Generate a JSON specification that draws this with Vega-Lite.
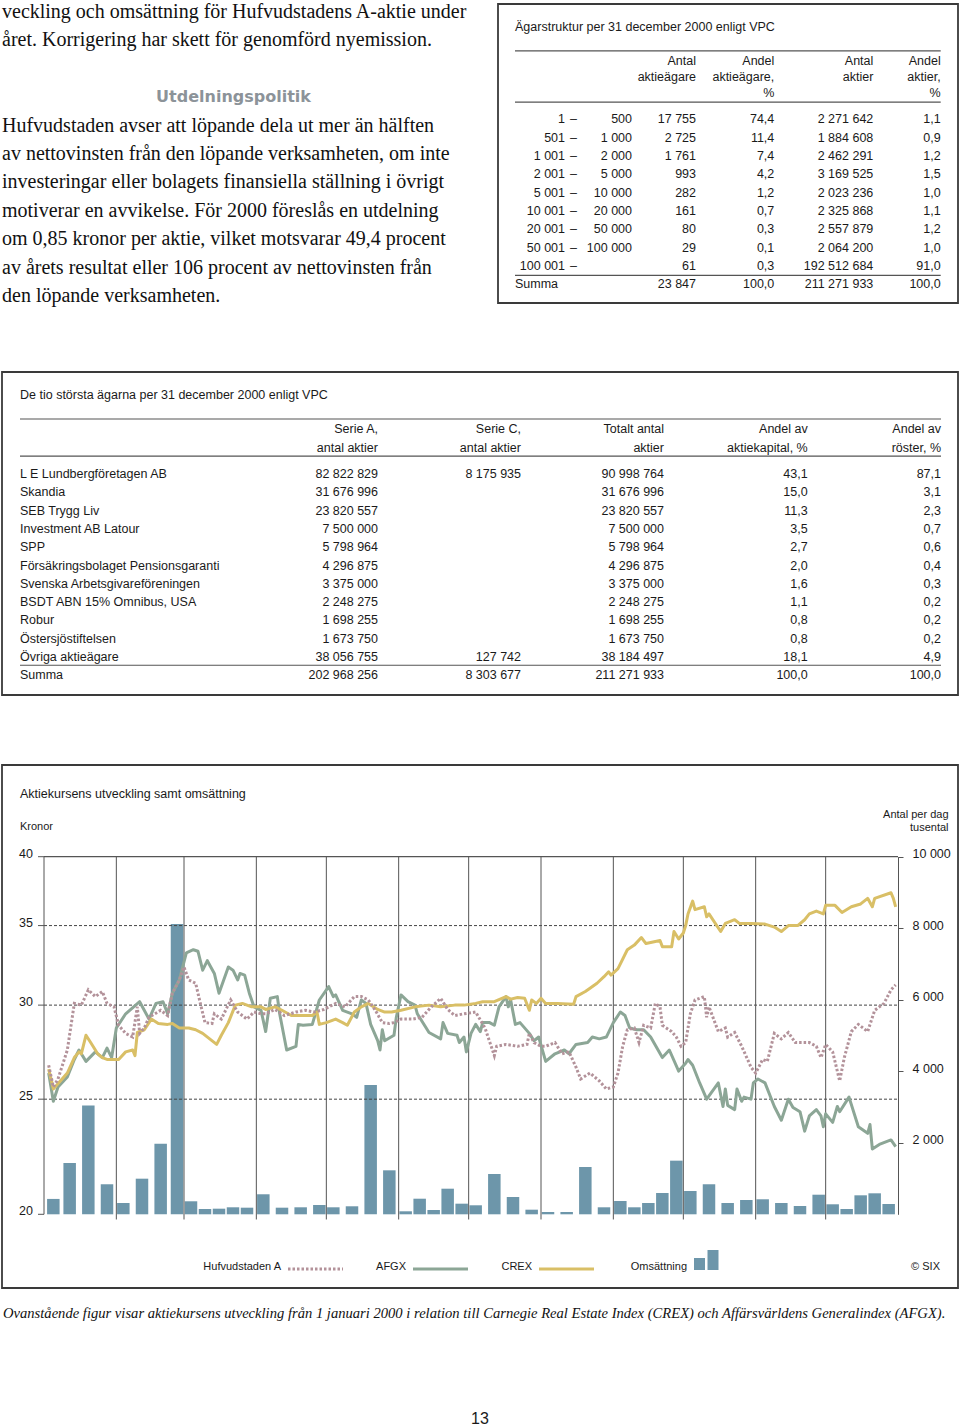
{
  "$schema": "https://vega.github.io/schema/vega-lite/v6.json",
  "width": 960,
  "height": 1428,
  "autosize": {"type": "none"},
  "padding": 0,
  "background": "white",
  "config": {
    "view": {"stroke": null},
    "font": "Liberation Sans, sans-serif",
    "text": {"color": "#1a1a1a"}
  },
  "datasets": {
    "brodtext": [
      {"rad": 0, "typ": "brod", "text": "veckling och omsättning för Hufvudstadens A-aktie under"},
      {"rad": 1, "typ": "brod", "text": "året. Korrigering har skett för genomförd nyemission."},
      {"rad": 3, "typ": "rubrik", "text": "Utdelningspolitik"},
      {"rad": 4, "typ": "brod", "text": "Hufvudstaden avser att löpande dela ut mer än hälften"},
      {"rad": 5, "typ": "brod", "text": "av nettovinsten från den löpande verksamheten, om inte"},
      {"rad": 6, "typ": "brod", "text": "investeringar eller bolagets finansiella ställning i övrigt"},
      {"rad": 7, "typ": "brod", "text": "motiverar en avvikelse. För 2000 föreslås en utdelning"},
      {"rad": 8, "typ": "brod", "text": "om 0,85 kronor per aktie, vilket motsvarar 49,4 procent"},
      {"rad": 9, "typ": "brod", "text": "av årets resultat eller 106 procent av nettovinsten från"},
      {"rad": 10, "typ": "brod", "text": "den löpande verksamheten."}
    ],
    "agarstruktur": [
      {"rad": -2, "etikett": "Ägarstruktur per 31 december 2000 enligt VPC"},
      {"rad": 0, "agare": "Antal", "agare_pct": "Andel", "aktier": "Antal", "aktier_pct": "Andel"},
      {"rad": 1, "agare": "aktieägare", "agare_pct": "aktieägare,", "aktier": "aktier", "aktier_pct": "aktier,"},
      {"rad": 2, "agare_pct": "%", "aktier_pct": "%"},
      {"rad": 3, "fran": "1", "streck": "–", "till": "500", "agare": "17 755", "agare_pct": "74,4", "aktier": "2 271 642", "aktier_pct": "1,1"},
      {"rad": 4, "fran": "501", "streck": "–", "till": "1 000", "agare": "2 725", "agare_pct": "11,4", "aktier": "1 884 608", "aktier_pct": "0,9"},
      {"rad": 5, "fran": "1 001", "streck": "–", "till": "2 000", "agare": "1 761", "agare_pct": "7,4", "aktier": "2 462 291", "aktier_pct": "1,2"},
      {"rad": 6, "fran": "2 001", "streck": "–", "till": "5 000", "agare": "993", "agare_pct": "4,2", "aktier": "3 169 525", "aktier_pct": "1,5"},
      {"rad": 7, "fran": "5 001", "streck": "–", "till": "10 000", "agare": "282", "agare_pct": "1,2", "aktier": "2 023 236", "aktier_pct": "1,0"},
      {"rad": 8, "fran": "10 001", "streck": "–", "till": "20 000", "agare": "161", "agare_pct": "0,7", "aktier": "2 325 868", "aktier_pct": "1,1"},
      {"rad": 9, "fran": "20 001", "streck": "–", "till": "50 000", "agare": "80", "agare_pct": "0,3", "aktier": "2 557 879", "aktier_pct": "1,2"},
      {"rad": 10, "fran": "50 001", "streck": "–", "till": "100 000", "agare": "29", "agare_pct": "0,1", "aktier": "2 064 200", "aktier_pct": "1,0"},
      {"rad": 11, "fran": "100 001", "streck": "–", "agare": "61", "agare_pct": "0,3", "aktier": "192 512 684", "aktier_pct": "91,0"},
      {"rad": 12, "etikett": "Summa", "agare": "23 847", "agare_pct": "100,0", "aktier": "211 271 933", "aktier_pct": "100,0"}
    ],
    "agarstrukturLinjer": [{"rad": -0.6}, {"rad": 2.35}, {"rad": 11.51}],
    "storstaAgare": [
      {"rad": -2, "namn": "De tio största ägarna per 31 december 2000 enligt VPC"},
      {"rad": 0, "serieA": "Serie A,", "serieC": "Serie C,", "totalt": "Totalt antal", "kapital": "Andel av", "roster": "Andel av"},
      {"rad": 1, "serieA": "antal aktier", "serieC": "antal aktier", "totalt": "aktier", "kapital": "aktiekapital, %", "roster": "röster, %"},
      {"rad": 2, "namn": "L E Lundbergföretagen AB", "serieA": "82 822 829", "serieC": "8 175 935", "totalt": "90 998 764", "kapital": "43,1", "roster": "87,1"},
      {"rad": 3, "namn": "Skandia", "serieA": "31 676 996", "totalt": "31 676 996", "kapital": "15,0", "roster": "3,1"},
      {"rad": 4, "namn": "SEB Trygg Liv", "serieA": "23 820 557", "totalt": "23 820 557", "kapital": "11,3", "roster": "2,3"},
      {"rad": 5, "namn": "Investment AB Latour", "serieA": "7 500 000", "totalt": "7 500 000", "kapital": "3,5", "roster": "0,7"},
      {"rad": 6, "namn": "SPP", "serieA": "5 798 964", "totalt": "5 798 964", "kapital": "2,7", "roster": "0,6"},
      {"rad": 7, "namn": "Försäkringsbolaget Pensionsgaranti", "serieA": "4 296 875", "totalt": "4 296 875", "kapital": "2,0", "roster": "0,4"},
      {"rad": 8, "namn": "Svenska Arbetsgivareföreningen", "serieA": "3 375 000", "totalt": "3 375 000", "kapital": "1,6", "roster": "0,3"},
      {"rad": 9, "namn": "BSDT ABN 15% Omnibus, USA", "serieA": "2 248 275", "totalt": "2 248 275", "kapital": "1,1", "roster": "0,2"},
      {"rad": 10, "namn": "Robur", "serieA": "1 698 255", "totalt": "1 698 255", "kapital": "0,8", "roster": "0,2"},
      {"rad": 11, "namn": "Östersjöstiftelsen", "serieA": "1 673 750", "totalt": "1 673 750", "kapital": "0,8", "roster": "0,2"},
      {"rad": 12, "namn": "Övriga aktieägare", "serieA": "38 056 755", "serieC": "127 742", "totalt": "38 184 497", "kapital": "18,1", "roster": "4,9"},
      {"rad": 13, "namn": "Summa", "serieA": "202 968 256", "serieC": "8 303 677", "totalt": "211 271 933", "kapital": "100,0", "roster": "100,0"}
    ],
    "storstaLinjer": [{"rad": -0.6}, {"rad": 1.32}, {"rad": 12.45}],
    "hufvudstaden": [
      {"d": "2000-01-03", "v": 26.7}, {"d": "2000-01-05", "v": 25.6}, {"d": "2000-01-07", "v": 26.0}, {"d": "2000-01-11", "v": 27.5},
      {"d": "2000-01-14", "v": 30.1}, {"d": "2000-01-17", "v": 30.0}, {"d": "2000-01-20", "v": 30.9}, {"d": "2000-01-23", "v": 30.5},
      {"d": "2000-01-26", "v": 30.8}, {"d": "2000-01-28", "v": 30.1}, {"d": "2000-01-31", "v": 29.9}, {"d": "2000-02-02", "v": 28.85},
      {"d": "2000-02-05", "v": 28.4}, {"d": "2000-02-08", "v": 28.2}, {"d": "2000-02-10", "v": 29.9}, {"d": "2000-02-11", "v": 28.4},
      {"d": "2000-02-13", "v": 28.7}, {"d": "2000-02-15", "v": 29.3}, {"d": "2000-02-20", "v": 29.7}, {"d": "2000-02-23", "v": 29.4},
      {"d": "2000-02-25", "v": 30.7}, {"d": "2000-02-28", "v": 31.5}, {"d": "2000-03-01", "v": 32.3}, {"d": "2000-03-03", "v": 31.5},
      {"d": "2000-03-06", "v": 31.3}, {"d": "2000-03-08", "v": 30.1}, {"d": "2000-03-10", "v": 29.0}, {"d": "2000-03-13", "v": 28.95},
      {"d": "2000-03-14", "v": 29.5}, {"d": "2000-03-17", "v": 29.2}, {"d": "2000-03-21", "v": 30.3}, {"d": "2000-03-24", "v": 29.6},
      {"d": "2000-03-28", "v": 29.2}, {"d": "2000-03-31", "v": 29.6}, {"d": "2000-04-03", "v": 29.5}, {"d": "2000-04-05", "v": 29.5},
      {"d": "2000-04-09", "v": 29.75}, {"d": "2000-04-13", "v": 29.4}, {"d": "2000-04-18", "v": 29.6}, {"d": "2000-04-22", "v": 29.7},
      {"d": "2000-04-26", "v": 29.6}, {"d": "2000-04-30", "v": 29.75}, {"d": "2000-05-05", "v": 30.1}, {"d": "2000-05-09", "v": 29.9},
      {"d": "2000-05-13", "v": 30.5}, {"d": "2000-05-16", "v": 30.5}, {"d": "2000-05-19", "v": 30.3}, {"d": "2000-05-22", "v": 29.7},
      {"d": "2000-05-25", "v": 29.0}, {"d": "2000-05-28", "v": 28.95}, {"d": "2000-05-30", "v": 29.0}, {"d": "2000-06-02", "v": 29.2},
      {"d": "2000-06-07", "v": 29.2}, {"d": "2000-06-11", "v": 29.3}, {"d": "2000-06-15", "v": 29.9}, {"d": "2000-06-19", "v": 30.4},
      {"d": "2000-06-22", "v": 29.75}, {"d": "2000-06-25", "v": 29.4}, {"d": "2000-06-29", "v": 29.5}, {"d": "2000-07-04", "v": 29.6},
      {"d": "2000-07-08", "v": 28.7}, {"d": "2000-07-12", "v": 27.2}, {"d": "2000-07-13", "v": 27.7}, {"d": "2000-07-17", "v": 27.8},
      {"d": "2000-07-22", "v": 27.7}, {"d": "2000-07-26", "v": 27.8}, {"d": "2000-07-27", "v": 28.4}, {"d": "2000-07-29", "v": 27.9},
      {"d": "2000-08-01", "v": 27.7}, {"d": "2000-08-03", "v": 27.7}, {"d": "2000-08-07", "v": 27.9}, {"d": "2000-08-10", "v": 27.3},
      {"d": "2000-08-13", "v": 27.4}, {"d": "2000-08-16", "v": 26.6}, {"d": "2000-08-18", "v": 26.0}, {"d": "2000-08-22", "v": 26.3},
      {"d": "2000-08-26", "v": 25.9}, {"d": "2000-08-29", "v": 25.5}, {"d": "2000-09-01", "v": 25.6}, {"d": "2000-09-03", "v": 26.3},
      {"d": "2000-09-05", "v": 27.7}, {"d": "2000-09-07", "v": 28.6}, {"d": "2000-09-10", "v": 28.7}, {"d": "2000-09-12", "v": 27.9},
      {"d": "2000-09-14", "v": 28.85}, {"d": "2000-09-17", "v": 28.7}, {"d": "2000-09-19", "v": 30.1}, {"d": "2000-09-21", "v": 29.9},
      {"d": "2000-09-22", "v": 28.85}, {"d": "2000-09-26", "v": 28.5}, {"d": "2000-09-28", "v": 28.2}, {"d": "2000-09-30", "v": 27.7},
      {"d": "2000-10-02", "v": 27.9}, {"d": "2000-10-04", "v": 29.5}, {"d": "2000-10-06", "v": 30.3}, {"d": "2000-10-10", "v": 30.5},
      {"d": "2000-10-11", "v": 29.3}, {"d": "2000-10-12", "v": 29.9}, {"d": "2000-10-16", "v": 28.5}, {"d": "2000-10-19", "v": 28.7},
      {"d": "2000-10-20", "v": 28.2}, {"d": "2000-10-23", "v": 28.45}, {"d": "2000-10-26", "v": 27.7}, {"d": "2000-10-30", "v": 26.6},
      {"d": "2000-11-01", "v": 26.3}, {"d": "2000-11-04", "v": 27.0}, {"d": "2000-11-06", "v": 26.9}, {"d": "2000-11-09", "v": 28.4},
      {"d": "2000-11-12", "v": 28.1}, {"d": "2000-11-15", "v": 28.45}, {"d": "2000-11-18", "v": 27.9}, {"d": "2000-11-24", "v": 27.9},
      {"d": "2000-11-27", "v": 27.7}, {"d": "2000-11-29", "v": 27.1}, {"d": "2000-12-01", "v": 27.8}, {"d": "2000-12-04", "v": 27.4},
      {"d": "2000-12-07", "v": 25.9}, {"d": "2000-12-09", "v": 27.1}, {"d": "2000-12-12", "v": 28.5}, {"d": "2000-12-15", "v": 28.9},
      {"d": "2000-12-19", "v": 28.5}, {"d": "2000-12-22", "v": 29.7}, {"d": "2000-12-26", "v": 30.1}, {"d": "2000-12-29", "v": 30.9},
      {"d": "2000-12-31", "v": 31.2}
    ],
    "afgx": [
      {"d": "2000-01-03", "v": 26.3}, {"d": "2000-01-05", "v": 24.9}, {"d": "2000-01-07", "v": 25.6}, {"d": "2000-01-11", "v": 26.1},
      {"d": "2000-01-14", "v": 27.0}, {"d": "2000-01-16", "v": 27.5}, {"d": "2000-01-19", "v": 26.9}, {"d": "2000-01-23", "v": 27.4},
      {"d": "2000-01-26", "v": 27.1}, {"d": "2000-01-28", "v": 27.6}, {"d": "2000-01-30", "v": 27.1}, {"d": "2000-02-01", "v": 28.7},
      {"d": "2000-02-05", "v": 29.5}, {"d": "2000-02-11", "v": 30.2}, {"d": "2000-02-15", "v": 29.2}, {"d": "2000-02-18", "v": 30.1},
      {"d": "2000-02-21", "v": 30.2}, {"d": "2000-02-23", "v": 29.5}, {"d": "2000-02-25", "v": 30.7}, {"d": "2000-02-28", "v": 31.5},
      {"d": "2000-03-02", "v": 33.2}, {"d": "2000-03-05", "v": 33.4}, {"d": "2000-03-07", "v": 33.3}, {"d": "2000-03-09", "v": 32.1},
      {"d": "2000-03-11", "v": 32.7}, {"d": "2000-03-14", "v": 31.9}, {"d": "2000-03-16", "v": 30.7}, {"d": "2000-03-20", "v": 32.3},
      {"d": "2000-03-22", "v": 32.1}, {"d": "2000-03-24", "v": 31.5}, {"d": "2000-03-25", "v": 31.9}, {"d": "2000-03-27", "v": 31.8},
      {"d": "2000-03-29", "v": 30.7}, {"d": "2000-03-31", "v": 29.9}, {"d": "2000-04-03", "v": 29.7}, {"d": "2000-04-05", "v": 28.5},
      {"d": "2000-04-07", "v": 30.4}, {"d": "2000-04-10", "v": 30.5}, {"d": "2000-04-11", "v": 29.5}, {"d": "2000-04-14", "v": 27.5},
      {"d": "2000-04-18", "v": 27.7}, {"d": "2000-04-19", "v": 28.9}, {"d": "2000-04-21", "v": 28.85}, {"d": "2000-04-25", "v": 28.9},
      {"d": "2000-04-28", "v": 30.3}, {"d": "2000-05-02", "v": 31.1}, {"d": "2000-05-04", "v": 30.5}, {"d": "2000-05-05", "v": 30.6},
      {"d": "2000-05-08", "v": 29.7}, {"d": "2000-05-12", "v": 29.5}, {"d": "2000-05-14", "v": 29.3}, {"d": "2000-05-16", "v": 30.3},
      {"d": "2000-05-18", "v": 30.1}, {"d": "2000-05-20", "v": 28.9}, {"d": "2000-05-23", "v": 28.0}, {"d": "2000-05-24", "v": 27.5},
      {"d": "2000-05-25", "v": 28.6}, {"d": "2000-05-26", "v": 28.0}, {"d": "2000-05-30", "v": 28.3}, {"d": "2000-05-31", "v": 29.3},
      {"d": "2000-06-02", "v": 30.6}, {"d": "2000-06-05", "v": 30.2}, {"d": "2000-06-08", "v": 30.0}, {"d": "2000-06-09", "v": 29.5},
      {"d": "2000-06-14", "v": 28.45}, {"d": "2000-06-19", "v": 28.1}, {"d": "2000-06-20", "v": 29.0}, {"d": "2000-06-22", "v": 28.4},
      {"d": "2000-06-26", "v": 28.3}, {"d": "2000-06-27", "v": 27.9}, {"d": "2000-06-29", "v": 28.2}, {"d": "2000-06-30", "v": 27.4},
      {"d": "2000-07-02", "v": 28.4}, {"d": "2000-07-04", "v": 28.9}, {"d": "2000-07-06", "v": 28.5}, {"d": "2000-07-07", "v": 29.0},
      {"d": "2000-07-10", "v": 29.0}, {"d": "2000-07-12", "v": 28.85}, {"d": "2000-07-14", "v": 29.9}, {"d": "2000-07-17", "v": 30.5},
      {"d": "2000-07-18", "v": 29.9}, {"d": "2000-07-19", "v": 30.3}, {"d": "2000-07-21", "v": 28.9}, {"d": "2000-07-23", "v": 29.0},
      {"d": "2000-07-27", "v": 28.4}, {"d": "2000-07-29", "v": 28.0}, {"d": "2000-07-31", "v": 28.2}, {"d": "2000-08-03", "v": 26.9},
      {"d": "2000-08-07", "v": 27.3}, {"d": "2000-08-11", "v": 27.5}, {"d": "2000-08-13", "v": 27.3}, {"d": "2000-08-16", "v": 27.8},
      {"d": "2000-08-21", "v": 27.9}, {"d": "2000-08-23", "v": 28.2}, {"d": "2000-08-26", "v": 28.1}, {"d": "2000-08-29", "v": 28.2},
      {"d": "2000-09-01", "v": 29.0}, {"d": "2000-09-04", "v": 29.6}, {"d": "2000-09-06", "v": 29.4}, {"d": "2000-09-08", "v": 28.7},
      {"d": "2000-09-11", "v": 28.6}, {"d": "2000-09-14", "v": 28.6}, {"d": "2000-09-17", "v": 28.2}, {"d": "2000-09-22", "v": 27.1},
      {"d": "2000-09-25", "v": 27.5}, {"d": "2000-09-29", "v": 26.4}, {"d": "2000-10-02", "v": 26.8}, {"d": "2000-10-03", "v": 27.0},
      {"d": "2000-10-05", "v": 26.7}, {"d": "2000-10-08", "v": 25.8}, {"d": "2000-10-11", "v": 25.0}, {"d": "2000-10-16", "v": 25.8},
      {"d": "2000-10-18", "v": 24.65}, {"d": "2000-10-19", "v": 25.5}, {"d": "2000-10-20", "v": 24.7}, {"d": "2000-10-23", "v": 24.5},
      {"d": "2000-10-24", "v": 25.5}, {"d": "2000-10-26", "v": 24.9}, {"d": "2000-10-27", "v": 25.1}, {"d": "2000-10-30", "v": 25.0},
      {"d": "2000-10-31", "v": 25.8}, {"d": "2000-11-02", "v": 26.0}, {"d": "2000-11-05", "v": 25.8}, {"d": "2000-11-09", "v": 24.65},
      {"d": "2000-11-12", "v": 24.0}, {"d": "2000-11-15", "v": 25.0}, {"d": "2000-11-17", "v": 24.6}, {"d": "2000-11-20", "v": 24.4},
      {"d": "2000-11-22", "v": 23.5}, {"d": "2000-11-24", "v": 24.2}, {"d": "2000-11-27", "v": 24.5}, {"d": "2000-11-29", "v": 24.2},
      {"d": "2000-11-30", "v": 23.7}, {"d": "2000-12-01", "v": 24.3}, {"d": "2000-12-04", "v": 23.9}, {"d": "2000-12-06", "v": 24.65},
      {"d": "2000-12-07", "v": 24.4}, {"d": "2000-12-11", "v": 25.1}, {"d": "2000-12-15", "v": 23.7}, {"d": "2000-12-19", "v": 23.4},
      {"d": "2000-12-20", "v": 23.8}, {"d": "2000-12-21", "v": 22.7}, {"d": "2000-12-24", "v": 22.9}, {"d": "2000-12-29", "v": 23.1},
      {"d": "2000-12-31", "v": 22.8}
    ],
    "crex": [
      {"d": "2000-01-03", "v": 26.5}, {"d": "2000-01-05", "v": 25.5}, {"d": "2000-01-08", "v": 25.9}, {"d": "2000-01-11", "v": 26.3},
      {"d": "2000-01-14", "v": 27.1}, {"d": "2000-01-16", "v": 27.4}, {"d": "2000-01-17", "v": 27.3}, {"d": "2000-01-19", "v": 28.3},
      {"d": "2000-01-21", "v": 27.9}, {"d": "2000-01-24", "v": 27.3}, {"d": "2000-01-26", "v": 27.1}, {"d": "2000-01-28", "v": 27.0},
      {"d": "2000-01-30", "v": 27.0}, {"d": "2000-02-02", "v": 27.0}, {"d": "2000-02-05", "v": 27.4}, {"d": "2000-02-08", "v": 27.5},
      {"d": "2000-02-09", "v": 27.2}, {"d": "2000-02-10", "v": 28.45}, {"d": "2000-02-13", "v": 28.6}, {"d": "2000-02-16", "v": 29.2},
      {"d": "2000-02-19", "v": 28.95}, {"d": "2000-02-23", "v": 28.9}, {"d": "2000-02-25", "v": 28.95}, {"d": "2000-02-28", "v": 28.7},
      {"d": "2000-03-03", "v": 28.7}, {"d": "2000-03-06", "v": 28.6}, {"d": "2000-03-09", "v": 28.4}, {"d": "2000-03-12", "v": 28.1},
      {"d": "2000-03-15", "v": 27.8}, {"d": "2000-03-17", "v": 28.3}, {"d": "2000-03-20", "v": 29.0}, {"d": "2000-03-23", "v": 30.0},
      {"d": "2000-03-26", "v": 30.1}, {"d": "2000-03-30", "v": 29.9}, {"d": "2000-04-03", "v": 29.9}, {"d": "2000-04-05", "v": 29.75},
      {"d": "2000-04-09", "v": 29.9}, {"d": "2000-04-12", "v": 29.7}, {"d": "2000-04-16", "v": 29.4}, {"d": "2000-04-20", "v": 29.4},
      {"d": "2000-04-25", "v": 29.4}, {"d": "2000-04-27", "v": 29.6}, {"d": "2000-04-28", "v": 28.9}, {"d": "2000-05-01", "v": 29.0},
      {"d": "2000-05-05", "v": 29.2}, {"d": "2000-05-08", "v": 29.0}, {"d": "2000-05-10", "v": 28.85}, {"d": "2000-05-13", "v": 29.6},
      {"d": "2000-05-16", "v": 29.9}, {"d": "2000-05-19", "v": 30.1}, {"d": "2000-05-23", "v": 29.75}, {"d": "2000-05-26", "v": 29.6},
      {"d": "2000-05-29", "v": 29.6}, {"d": "2000-06-02", "v": 29.7}, {"d": "2000-06-08", "v": 29.9}, {"d": "2000-06-14", "v": 30.0},
      {"d": "2000-06-19", "v": 29.9}, {"d": "2000-06-25", "v": 30.0}, {"d": "2000-06-29", "v": 30.0}, {"d": "2000-07-04", "v": 30.1},
      {"d": "2000-07-07", "v": 30.2}, {"d": "2000-07-12", "v": 30.2}, {"d": "2000-07-17", "v": 30.5}, {"d": "2000-07-19", "v": 30.35},
      {"d": "2000-07-22", "v": 30.45}, {"d": "2000-07-25", "v": 30.4}, {"d": "2000-07-27", "v": 29.7}, {"d": "2000-07-28", "v": 30.3},
      {"d": "2000-07-30", "v": 30.1}, {"d": "2000-08-01", "v": 30.4}, {"d": "2000-08-03", "v": 30.1}, {"d": "2000-08-08", "v": 30.1},
      {"d": "2000-08-15", "v": 30.05}, {"d": "2000-08-16", "v": 30.5}, {"d": "2000-08-20", "v": 30.8}, {"d": "2000-08-22", "v": 31.0},
      {"d": "2000-08-25", "v": 31.3}, {"d": "2000-08-28", "v": 31.7}, {"d": "2000-08-30", "v": 32.0}, {"d": "2000-08-31", "v": 31.8},
      {"d": "2000-09-03", "v": 32.2}, {"d": "2000-09-07", "v": 33.4}, {"d": "2000-09-10", "v": 33.7}, {"d": "2000-09-13", "v": 34.2},
      {"d": "2000-09-15", "v": 33.8}, {"d": "2000-09-18", "v": 33.9}, {"d": "2000-09-21", "v": 34.0}, {"d": "2000-09-22", "v": 33.6},
      {"d": "2000-09-26", "v": 33.6}, {"d": "2000-09-27", "v": 34.6}, {"d": "2000-09-29", "v": 34.1}, {"d": "2000-10-01", "v": 34.5},
      {"d": "2000-10-02", "v": 35.0}, {"d": "2000-10-03", "v": 35.8}, {"d": "2000-10-05", "v": 36.7}, {"d": "2000-10-06", "v": 36.1},
      {"d": "2000-10-10", "v": 36.3}, {"d": "2000-10-11", "v": 35.6}, {"d": "2000-10-12", "v": 35.8}, {"d": "2000-10-17", "v": 34.6},
      {"d": "2000-10-19", "v": 35.15}, {"d": "2000-10-23", "v": 35.4}, {"d": "2000-10-25", "v": 35.15}, {"d": "2000-10-30", "v": 35.15},
      {"d": "2000-11-05", "v": 35.1}, {"d": "2000-11-09", "v": 34.9}, {"d": "2000-11-12", "v": 34.6}, {"d": "2000-11-15", "v": 35.0},
      {"d": "2000-11-19", "v": 35.0}, {"d": "2000-11-22", "v": 35.4}, {"d": "2000-11-24", "v": 35.8}, {"d": "2000-11-27", "v": 36.0},
      {"d": "2000-11-30", "v": 35.8}, {"d": "2000-12-01", "v": 36.4}, {"d": "2000-12-05", "v": 36.4}, {"d": "2000-12-08", "v": 35.9},
      {"d": "2000-12-12", "v": 36.3}, {"d": "2000-12-16", "v": 36.5}, {"d": "2000-12-19", "v": 36.9}, {"d": "2000-12-21", "v": 36.3},
      {"d": "2000-12-22", "v": 36.9}, {"d": "2000-12-29", "v": 37.3}, {"d": "2000-12-30", "v": 36.9}, {"d": "2000-12-31", "v": 36.3}
    ],
    "omsattning": [
      {"d": "2000-01-05", "v": 430}, {"d": "2000-01-12", "v": 1435}, {"d": "2000-01-20", "v": 3040}, {"d": "2000-01-28", "v": 840},
      {"d": "2000-02-04", "v": 316}, {"d": "2000-02-12", "v": 996}, {"d": "2000-02-20", "v": 1975}, {"d": "2000-02-27", "v": 8120},
      {"d": "2000-03-04", "v": 364}, {"d": "2000-03-10", "v": 148}, {"d": "2000-03-16", "v": 157}, {"d": "2000-03-22", "v": 196},
      {"d": "2000-03-28", "v": 185}, {"d": "2000-04-04", "v": 560}, {"d": "2000-04-12", "v": 185}, {"d": "2000-04-20", "v": 196},
      {"d": "2000-04-28", "v": 260}, {"d": "2000-05-04", "v": 196}, {"d": "2000-05-12", "v": 224}, {"d": "2000-05-20", "v": 3617},
      {"d": "2000-05-28", "v": 1230}, {"d": "2000-06-04", "v": 84}, {"d": "2000-06-10", "v": 436}, {"d": "2000-06-16", "v": 120},
      {"d": "2000-06-22", "v": 716}, {"d": "2000-06-28", "v": 297}, {"d": "2000-07-04", "v": 252}, {"d": "2000-07-12", "v": 1127},
      {"d": "2000-07-20", "v": 484}, {"d": "2000-07-28", "v": 129}, {"d": "2000-08-04", "v": 64}, {"d": "2000-08-12", "v": 64},
      {"d": "2000-08-20", "v": 1323}, {"d": "2000-08-28", "v": 196}, {"d": "2000-09-04", "v": 372}, {"d": "2000-09-10", "v": 196},
      {"d": "2000-09-16", "v": 316}, {"d": "2000-09-22", "v": 596}, {"d": "2000-09-28", "v": 1500}, {"d": "2000-10-04", "v": 652},
      {"d": "2000-10-12", "v": 840}, {"d": "2000-10-20", "v": 316}, {"d": "2000-10-28", "v": 400}, {"d": "2000-11-04", "v": 420},
      {"d": "2000-11-12", "v": 316}, {"d": "2000-11-20", "v": 232}, {"d": "2000-11-28", "v": 548}, {"d": "2000-12-04", "v": 280},
      {"d": "2000-12-10", "v": 148}, {"d": "2000-12-16", "v": 531}, {"d": "2000-12-22", "v": 587}, {"d": "2000-12-28", "v": 288}
    ],
    "manadsgranser": [
      {"m": "2000-02-01"}, {"m": "2000-03-01"}, {"m": "2000-04-01"}, {"m": "2000-05-01"}, {"m": "2000-06-01"}, {"m": "2000-07-01"},
      {"m": "2000-08-01"}, {"m": "2000-09-01"}, {"m": "2000-10-01"}, {"m": "2000-11-01"}, {"m": "2000-12-01"}
    ],
    "kronorsteg": [{"kronor": 20}, {"kronor": 25}, {"kronor": 30}, {"kronor": 35}, {"kronor": 40}],
    "kronorrubrik": [{"kronor": 40, "text": "Kronor"}],
    "stodlinjer": [{"niva": 25}, {"niva": 30}, {"niva": 35}],
    "ramlinje": [{"niva": 40}],
    "forklaring": [
      {"nr": 1, "serie": "Hufvudstaden A", "typ": "linje"},
      {"nr": 2, "serie": "AFGX", "typ": "linje"},
      {"nr": 3, "serie": "CREX", "typ": "linje"},
      {"nr": 4, "serie": "Omsättning", "typ": "stapel"},
      {"nr": 5, "serie": "© SIX", "typ": "kalla"}
    ],
    "diagramrubrik": [{"rubrik": "Aktiekursens utveckling samt omsättning"}],
    "fot": [
      {"rad": 0, "typ": "bildtext", "text": "Ovanstående figur visar aktiekursens utveckling från 1 januari 2000 i relation till Carnegie Real Estate Index (CREX) och Affärsvärldens Generalindex (AFGX)."},
      {"rad": 1, "typ": "sidnummer", "text": "13"}
    ]
  },
  "layer": [
    {
      "data": {"name": "brodtext"},
      "encoding": {
        "y": {"field": "rad", "type": "quantitative", "axis": null,
              "scale": {"domain": [0, 10], "range": [12, 296], "nice": false, "zero": false}}
      },
      "layer": [
        {
          "transform": [{"filter": "datum.typ == 'brod'"}],
          "mark": {"type": "text", "align": "left", "baseline": "middle", "font": "Liberation Serif", "fontSize": 20, "color": "#111"},
          "encoding": {
            "x": {"datum": 0, "type": "quantitative", "axis": null,
                  "scale": {"domain": [0, 1], "range": [2, 465], "nice": false, "zero": false}},
            "text": {"field": "text", "type": "nominal"}
          }
        },
        {
          "transform": [{"filter": "datum.typ == 'rubrik'"}],
          "mark": {"type": "text", "align": "center", "baseline": "middle", "font": "DejaVu Sans", "fontWeight": "bold", "fontSize": 16, "color": "#8c9399"},
          "encoding": {
            "x": {"datum": 0.5, "type": "quantitative", "axis": null},
            "text": {"field": "text", "type": "nominal"}
          }
        }
      ]
    },
    {
      "layer": [
        {
          "data": {"values": [{}]},
          "mark": {"type": "rect", "fillOpacity": 0, "stroke": "#3a3a3a", "strokeWidth": 1.8},
          "encoding": {
            "x": {"datum": -1, "type": "quantitative", "axis": null,
                  "scale": {"domain": [-1, 0, 1, 2, 3, 4, 5, 6, 7, 8], "range": [498, 515, 565, 577, 632, 696, 774.3, 873.3, 940.7, 958], "nice": false, "zero": false}},
            "x2": {"datum": 8},
            "y": {"datum": -3.5, "type": "quantitative", "axis": null,
                  "scale": {"domain": [-3.5, -2, 0, 2, 3, 12, 13], "range": [4, 27, 61, 93, 119.3, 284.3, 303], "nice": false, "zero": false}},
            "y2": {"datum": 13}
          }
        },
        {
          "data": {"name": "agarstrukturLinjer"},
          "mark": {"type": "rule", "color": "#555", "strokeWidth": 1.2},
          "encoding": {
            "x": {"datum": 0, "type": "quantitative", "axis": null},
            "x2": {"datum": 7},
            "y": {"field": "rad", "type": "quantitative", "axis": null}
          }
        },
        {
          "data": {"name": "agarstruktur"},
          "transform": [
            {"fold": ["fran", "streck", "till", "agare", "agare_pct", "aktier", "aktier_pct"], "as": ["kolumn", "cell"]},
            {"filter": "isValid(datum.cell)"},
            {"lookup": "kolumn", "from": {"data": {"values": [
              {"kolumn": "fran", "nr": 1}, {"kolumn": "streck", "nr": 2}, {"kolumn": "till", "nr": 3}, {"kolumn": "agare", "nr": 4},
              {"kolumn": "agare_pct", "nr": 5}, {"kolumn": "aktier", "nr": 6}, {"kolumn": "aktier_pct", "nr": 7}]}, "key": "kolumn", "fields": ["nr"]}}
          ],
          "mark": {"type": "text", "align": "right", "baseline": "middle", "fontSize": 12.5},
          "encoding": {
            "x": {"field": "nr", "type": "quantitative", "axis": null},
            "y": {"field": "rad", "type": "quantitative", "axis": null},
            "text": {"field": "cell", "type": "nominal"}
          }
        },
        {
          "data": {"name": "agarstruktur"},
          "transform": [{"filter": "isValid(datum.etikett)"}],
          "mark": {"type": "text", "align": "left", "baseline": "middle", "fontSize": 12.5},
          "encoding": {
            "x": {"datum": 0, "type": "quantitative", "axis": null},
            "y": {"field": "rad", "type": "quantitative", "axis": null},
            "text": {"field": "etikett", "type": "nominal"}
          }
        }
      ]
    },
    {
      "layer": [
        {
          "data": {"values": [{}]},
          "mark": {"type": "rect", "fillOpacity": 0, "stroke": "#3a3a3a", "strokeWidth": 1.8},
          "encoding": {
            "x": {"datum": -1, "type": "quantitative", "axis": null,
                  "scale": {"domain": [-1, 0, 1, 2, 3, 4, 5, 6], "range": [2, 20, 378, 521, 664, 807.7, 941, 958], "nice": false, "zero": false}},
            "x2": {"datum": 6},
            "y": {"datum": -3, "type": "quantitative", "axis": null,
                  "scale": {"domain": [-3, -2, 0, 1, 2, 13, 14], "range": [372, 395, 429.3, 447.7, 474, 675.3, 695], "nice": false, "zero": false}},
            "y2": {"datum": 14}
          }
        },
        {
          "data": {"name": "storstaLinjer"},
          "mark": {"type": "rule", "color": "#555", "strokeWidth": 1.2},
          "encoding": {
            "x": {"datum": 0, "type": "quantitative", "axis": null},
            "x2": {"datum": 5},
            "y": {"field": "rad", "type": "quantitative", "axis": null}
          }
        },
        {
          "data": {"name": "storstaAgare"},
          "transform": [
            {"fold": ["serieA", "serieC", "totalt", "kapital", "roster"], "as": ["kolumn", "cell"]},
            {"filter": "isValid(datum.cell)"},
            {"lookup": "kolumn", "from": {"data": {"values": [
              {"kolumn": "serieA", "nr": 1}, {"kolumn": "serieC", "nr": 2}, {"kolumn": "totalt", "nr": 3},
              {"kolumn": "kapital", "nr": 4}, {"kolumn": "roster", "nr": 5}]}, "key": "kolumn", "fields": ["nr"]}}
          ],
          "mark": {"type": "text", "align": "right", "baseline": "middle", "fontSize": 12.5},
          "encoding": {
            "x": {"field": "nr", "type": "quantitative", "axis": null},
            "y": {"field": "rad", "type": "quantitative", "axis": null},
            "text": {"field": "cell", "type": "nominal"}
          }
        },
        {
          "data": {"name": "storstaAgare"},
          "transform": [{"filter": "isValid(datum.namn)"}],
          "mark": {"type": "text", "align": "left", "baseline": "middle", "fontSize": 12.5},
          "encoding": {
            "x": {"datum": 0, "type": "quantitative", "axis": null},
            "y": {"field": "rad", "type": "quantitative", "axis": null},
            "text": {"field": "namn", "type": "nominal"}
          }
        }
      ]
    },
    {
      "layer": [
        {
          "data": {"values": [{}]},
          "mark": {"type": "rect", "fillOpacity": 0, "stroke": "#3a3a3a", "strokeWidth": 1.8},
          "encoding": {
            "x": {"datum": 0, "type": "quantitative", "axis": null,
                  "scale": {"domain": [0, 0.5, 1, 2, 3, 4, 5, 6], "range": [2, 20, 281, 406, 532, 687, 940, 958], "nice": false, "zero": false}},
            "x2": {"datum": 6},
            "y": {"datum": 0, "type": "quantitative", "axis": null,
                  "scale": {"domain": [0, 1, 2, 3], "range": [765, 794, 1267, 1288], "nice": false, "zero": false}},
            "y2": {"datum": 3}
          }
        },
        {
          "data": {"name": "diagramrubrik"},
          "mark": {"type": "text", "align": "left", "baseline": "middle", "fontSize": 12.5},
          "encoding": {
            "x": {"datum": 0.5, "type": "quantitative", "axis": null},
            "y": {"datum": 1, "type": "quantitative", "axis": null},
            "text": {"field": "rubrik", "type": "nominal"}
          }
        },
        {
          "data": {"name": "forklaring"},
          "mark": {"type": "text", "align": "right", "baseline": "middle", "fontSize": 11},
          "encoding": {
            "x": {"field": "nr", "type": "quantitative", "axis": null},
            "y": {"datum": 2, "type": "quantitative", "axis": null},
            "text": {"field": "serie", "type": "nominal"}
          }
        },
        {
          "data": {"name": "forklaring"},
          "transform": [{"filter": "datum.typ == 'linje'"}],
          "mark": {"type": "rule", "strokeWidth": 3, "xOffset": 7, "x2Offset": 62, "yOffset": 2},
          "encoding": {
            "x": {"field": "nr", "type": "quantitative", "axis": null},
            "x2": {"field": "nr"},
            "y": {"datum": 2, "type": "quantitative", "axis": null},
            "color": {"field": "serie", "type": "nominal", "legend": null,
                      "scale": {"domain": ["Hufvudstaden A", "AFGX", "CREX"], "range": ["#b3929a", "#8ca696", "#d9bf66"]}},
            "strokeDash": {"field": "serie", "type": "nominal", "legend": null,
                           "scale": {"domain": ["Hufvudstaden A", "AFGX", "CREX"], "range": [[2.5, 2], [1, 0], [1, 0]]}}
          }
        },
        {
          "data": {"name": "forklaring"},
          "transform": [{"filter": "datum.typ == 'stapel'"}],
          "mark": {"type": "rule", "strokeWidth": 11, "color": "#6d96aa", "xOffset": 12.5, "x2Offset": 12.5, "yOffset": 3, "y2Offset": -9},
          "encoding": {
            "x": {"field": "nr", "type": "quantitative", "axis": null},
            "x2": {"field": "nr"},
            "y": {"datum": 2, "type": "quantitative", "axis": null},
            "y2": {"datum": 2}
          }
        },
        {
          "data": {"name": "forklaring"},
          "transform": [{"filter": "datum.typ == 'stapel'"}],
          "mark": {"type": "rule", "strokeWidth": 11, "color": "#6d96aa", "xOffset": 26, "x2Offset": 26, "yOffset": 3, "y2Offset": -17},
          "encoding": {
            "x": {"field": "nr", "type": "quantitative", "axis": null},
            "x2": {"field": "nr"},
            "y": {"datum": 2, "type": "quantitative", "axis": null},
            "y2": {"datum": 2}
          }
        }
      ]
    },
    {
      "layer": [
        {
          "data": {"name": "omsattning"},
          "mark": {"type": "bar", "width": 12.5, "color": "#6d96aa"},
          "encoding": {
            "x": {"field": "d", "type": "temporal", "axis": null,
                  "scale": {"type": "utc", "domain": [{"year": 2000, "month": 1, "date": 1, "utc": true}, {"year": 2001, "month": 1, "date": 1, "utc": true}], "range": [44, 898], "padding": 0, "nice": false}},
            "y": {"field": "v", "type": "quantitative",
                  "scale": {"domain": [0, 10000], "range": [1214.3, 856.7], "nice": false, "zero": false},
                  "axis": {"orient": "right", "offset": -62, "values": [2000, 4000, 6000, 8000, 10000], "grid": false,
                           "domain": true, "domainColor": "#555", "ticks": true, "tickSize": 5, "tickColor": "#555",
                           "labelExpr": "replace(format(datum.value, ',d'), ',', ' ')", "labelFontSize": 12.5, "labelPadding": 9,
                           "labelOffset": -3, "labelAlign": "left", "labelColor": "#1a1a1a",
                           "title": ["Antal per dag", "tusental"], "titleAngle": 0, "titleAlign": "right", "titleBaseline": "top",
                           "titleX": 50, "titleY": 808, "titleFontSize": 11, "titleFontWeight": "normal", "titleLineHeight": 13, "titleColor": "#1a1a1a"}}
          }
        },
        {
          "layer": [
            {
              "data": {"name": "stodlinjer"},
              "mark": {"type": "rule", "color": "#444", "strokeWidth": 1, "strokeDash": [3, 2]},
              "encoding": {
                "x": {"datum": {"year": 2000, "month": 1, "date": 1, "utc": true}, "type": "temporal", "axis": null},
                "x2": {"datum": {"year": 2001, "month": 1, "date": 1, "utc": true}},
                "y": {"field": "niva", "type": "quantitative", "axis": null,
                      "scale": {"type": "log", "domain": [20, 40], "range": [1214.3, 856.7], "nice": false}}
              }
            },
            {
              "data": {"name": "ramlinje"},
              "mark": {"type": "rule", "color": "#555", "strokeWidth": 1.2},
              "encoding": {
                "x": {"datum": {"year": 2000, "month": 1, "date": 1, "utc": true}, "type": "temporal", "axis": null},
                "x2": {"datum": {"year": 2001, "month": 1, "date": 1, "utc": true}},
                "y": {"field": "niva", "type": "quantitative", "axis": null}
              }
            },
            {
              "data": {"name": "kronorsteg"},
              "mark": {"type": "rule", "color": "#555", "strokeWidth": 1, "xOffset": -6},
              "encoding": {
                "x": {"datum": {"year": 2000, "month": 1, "date": 1, "utc": true}, "type": "temporal", "axis": null},
                "x2": {"datum": {"year": 2000, "month": 1, "date": 1, "utc": true}},
                "y": {"field": "kronor", "type": "quantitative", "axis": null}
              }
            },
            {
              "data": {"name": "kronorsteg"},
              "mark": {"type": "text", "align": "right", "baseline": "middle", "dx": -11, "dy": -3, "fontSize": 12.5},
              "encoding": {
                "x": {"datum": {"year": 2000, "month": 1, "date": 1, "utc": true}, "type": "temporal", "axis": null},
                "y": {"field": "kronor", "type": "quantitative", "axis": null},
                "text": {"field": "kronor", "type": "quantitative", "format": "d"}
              }
            },
            {
              "data": {"name": "kronorrubrik"},
              "mark": {"type": "text", "align": "left", "baseline": "middle", "dx": -24, "dy": -30, "fontSize": 11},
              "encoding": {
                "x": {"datum": {"year": 2000, "month": 1, "date": 1, "utc": true}, "type": "temporal", "axis": null},
                "y": {"field": "kronor", "type": "quantitative", "axis": null},
                "text": {"field": "text", "type": "nominal"}
              }
            },
            {
              "data": {"name": "manadsgranser"},
              "mark": {"type": "rule", "color": "#555", "strokeWidth": 1},
              "encoding": {
                "x": {"field": "m", "type": "temporal",
                      "axis": {"orient": "bottom", "offset": -213.7, "grid": false, "ticks": false,
                               "domain": true, "domainColor": "#555",
                               "values": [
                                 {"year": 2000, "month": 1, "date": 15, "utc": true}, {"year": 2000, "month": 2, "date": 15, "utc": true},
                                 {"year": 2000, "month": 3, "date": 15, "utc": true}, {"year": 2000, "month": 4, "date": 15, "utc": true},
                                 {"year": 2000, "month": 5, "date": 15, "utc": true}, {"year": 2000, "month": 6, "date": 15, "utc": true},
                                 {"year": 2000, "month": 7, "date": 15, "utc": true}, {"year": 2000, "month": 8, "date": 15, "utc": true},
                                 {"year": 2000, "month": 9, "date": 15, "utc": true}, {"year": 2000, "month": 10, "date": 15, "utc": true},
                                 {"year": 2000, "month": 11, "date": 15, "utc": true}, {"year": 2000, "month": 12, "date": 15, "utc": true}],
                               "labelExpr": "['JAN','FEB','MAR','APR','MAJ','JUN','JUL','AUG','SEP','OKT','NOV','DEC'][utcmonth(datum.value)]",
                               "labelFontSize": 11, "labelPadding": 9, "labelColor": "#1a1a1a",
                               "labelFlush": false, "labelOverlap": false, "title": null}},
                "y": {"datum": 40, "type": "quantitative", "axis": null},
                "y2": {"datum": 19.8}
              }
            },
            {
              "data": {"values": [{}]},
              "mark": {"type": "rule", "color": "#555", "strokeWidth": 1},
              "encoding": {
                "x": {"datum": {"year": 2000, "month": 1, "date": 1, "utc": true}, "type": "temporal", "axis": null},
                "y": {"datum": 40, "type": "quantitative", "axis": null},
                "y2": {"datum": 20}
              }
            },
            {
              "data": {"name": "afgx"},
              "mark": {"type": "line", "color": "#8ca696", "strokeWidth": 3, "strokeJoin": "round"},
              "encoding": {
                "x": {"field": "d", "type": "temporal", "axis": null},
                "y": {"field": "v", "type": "quantitative", "axis": null}
              }
            },
            {
              "data": {"name": "crex"},
              "mark": {"type": "line", "color": "#d9bf66", "strokeWidth": 3, "strokeJoin": "round"},
              "encoding": {
                "x": {"field": "d", "type": "temporal", "axis": null},
                "y": {"field": "v", "type": "quantitative", "axis": null}
              }
            },
            {
              "data": {"name": "hufvudstaden"},
              "mark": {"type": "line", "color": "#b3929a", "strokeWidth": 3, "strokeDash": [2.5, 2]},
              "encoding": {
                "x": {"field": "d", "type": "temporal", "axis": null},
                "y": {"field": "v", "type": "quantitative", "axis": null}
              }
            }
          ]
        }
      ],
      "resolve": {"scale": {"y": "independent"}}
    },
    {
      "data": {"name": "fot"},
      "encoding": {
        "y": {"field": "rad", "type": "quantitative", "axis": null,
              "scale": {"domain": [0, 1], "range": [1314, 1419], "nice": false, "zero": false}}
      },
      "layer": [
        {
          "transform": [{"filter": "datum.typ == 'bildtext'"}],
          "mark": {"type": "text", "align": "left", "baseline": "middle", "font": "Liberation Serif", "fontStyle": "italic", "fontSize": 14.6, "color": "#111"},
          "encoding": {
            "x": {"datum": 0, "type": "quantitative", "axis": null,
                  "scale": {"domain": [0, 1], "range": [3, 957], "nice": false, "zero": false}},
            "text": {"field": "text", "type": "nominal"}
          }
        },
        {
          "transform": [{"filter": "datum.typ == 'sidnummer'"}],
          "mark": {"type": "text", "align": "center", "baseline": "middle", "fontSize": 16, "color": "#1a1a1a"},
          "encoding": {
            "x": {"datum": 0.5, "type": "quantitative", "axis": null},
            "text": {"field": "text", "type": "nominal"}
          }
        }
      ]
    }
  ],
  "resolve": {"scale": {"x": "independent", "y": "independent", "color": "independent", "strokeDash": "independent"}}
}
